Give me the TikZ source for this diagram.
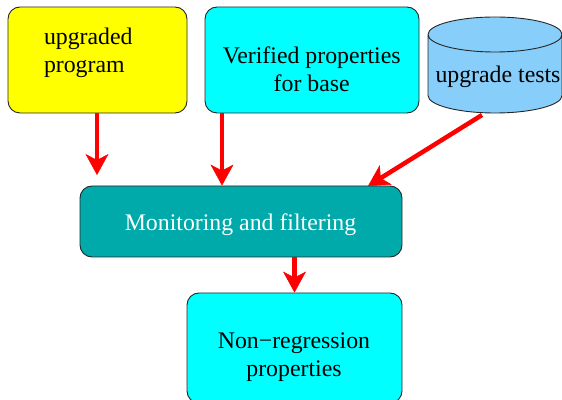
\documentclass[tikz,border=0pt]{standalone}
\usepackage{fontspec}
\setmainfont{Liberation Serif}
\usetikzlibrary{arrows.meta}
\definecolor{progyellow}{RGB}{255,255,0}
\definecolor{propcyan}{RGB}{0,255,255}
\definecolor{cylblue}{RGB}{135,206,250}
\definecolor{monteal}{RGB}{0,170,170}
\tikzset{
  box/.style={draw=black!85, line width=0.9pt, rounded corners=12pt, inner sep=0pt},
  txt/.style={inner sep=0pt, align=center, font=\fontsize{23.8}{28.5}\selectfont},
  arr/.style={draw=red, line width=4.5pt, -{Stealth[length=21pt,width=23pt,inset=6pt,line width=0.5pt]}}
}
\begin{document}
\begin{tikzpicture}[x=1pt,y=1pt]
\useasboundingbox (0,0) rectangle (562,399);
% boxes
\node[box, fill=progyellow, minimum width=179pt, minimum height=106pt] (prog) at (97.5,339) {};
\node[txt, align=left] (progt) at (88.3,346) {upgraded\\program};
\node[box, fill=propcyan, minimum width=214pt, minimum height=106pt] (ver) at (312,339) {};
\node[txt] (vert) at (311.7,330) {Verified properties\\for base};
% cylinder
\fill[cylblue] (428,364.5) -- (428,303.5) arc[start angle=180,end angle=360,x radius=67,y radius=17.5] -- (562,364.5) arc[start angle=0,end angle=180,x radius=67,y radius=17.5] -- cycle;
\draw[black!85, line width=0.9pt] (428,364.5) -- (428,303.5) arc[start angle=180,end angle=360,x radius=67,y radius=17.5] -- (562,364.5) arc[start angle=0,end angle=360,x radius=67,y radius=17.5];
\node[txt] (tests) at (498,322) {upgrade tests};
\node[box, fill=monteal, minimum width=322pt, minimum height=71pt] (mon) at (241,177.5) {};
\node[txt, text=white] (mont) at (240.5,174) {Monitoring and filtering};
\node[box, fill=propcyan, minimum width=215pt, minimum height=110pt] (nonreg) at (294.5,51) {};
\node[txt] (nonregt) at (294,42) {Non−regression\\properties};
% connectors
\coordinate (a1s) at (97,286);
\coordinate (a1e) at (97,224);
\coordinate (a2s) at (222,286);
\coordinate (a3s) at (482,284);
\coordinate (a3e) at (368,213);
\draw[arr] (a1s) -- (a1e);
\draw[arr] (a2s) -- (a2s |- mon.north);
\draw[arr] (a3s) -- (a3e);
\draw[arr] (nonreg.north |- mon.south) -- (nonreg.north);
\end{tikzpicture}
\end{document}
